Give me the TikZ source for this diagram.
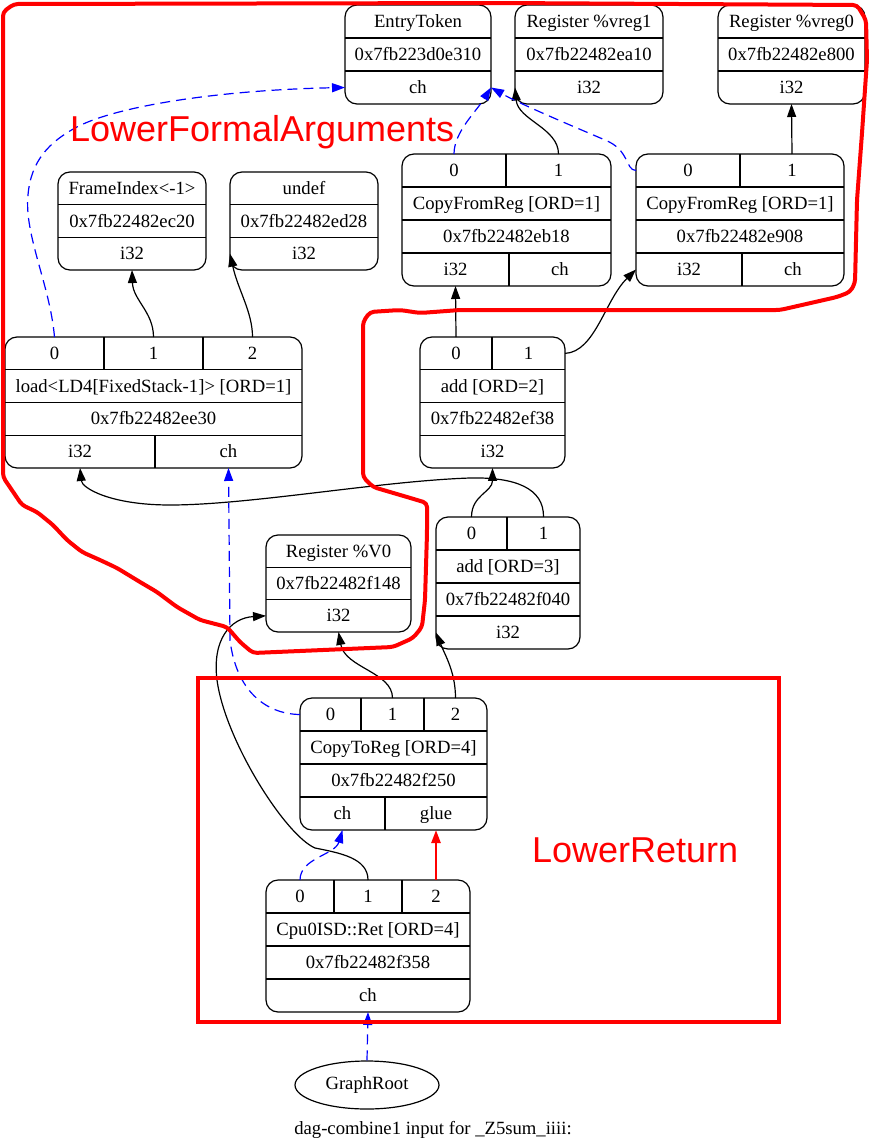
\documentclass[tikz,border=0pt]{standalone}
\usepackage{fontspec}
\setmainfont{Liberation Serif}
\newfontfamily\annofont{Liberation Sans}
\usetikzlibrary{arrows.meta,shapes.geometric}
\newcommand\lblfont{\fontsize{18.67}{22}\selectfont}
\newcommand\fld[6]{\node[fld, minimum width=#4pt, minimum height=#5pt] (#1) at (#2,#3) {#6};}
\newcommand\rbox[5]{\node[rec, minimum width=#4pt, minimum height=#5pt] (#1) at (#2,#3) {};}
\newcommand\rowline[3]{\draw[sepline] (#1,#3) -- (#2,#3);}
\newcommand\colline[3]{\draw[sepline] (#1,#2) -- (#1,#3);}
\tikzset{
  rec/.style={draw, line width=1.2pt, rounded corners=12pt, inner sep=0pt, outer sep=0pt},
  sepline/.style={line width=1.2pt},
  fld/.style={inner sep=0pt, outer sep=0pt, font=\lblfont, text height=14pt, text depth=2pt, align=center},
  edgetip/.style={-{Triangle[length=13pt,width=9pt]}},
  dataedge/.style={edgetip, line width=1.2pt},
  chainedge/.style={edgetip, line width=1.2pt, blue, dash pattern=on 10pt off 6pt},
  glueedge/.style={edgetip, line width=2.4pt, red},
  anno/.style={red, line width=4pt, line join=round, line cap=round},
  annotext/.style={red, inner sep=0pt, outer sep=0pt, font=\annofont\fontsize{36}{40}\selectfont, anchor=base west},
}
\begin{document}
\begin{tikzpicture}[x=1pt,y=-1pt]
\useasboundingbox (0,0) rectangle (871,1148);

% EntryToken
\rbox{entry}{418}{54.5}{146}{99}
\rowline{345}{491}{38}\rowline{345}{491}{71}
\fld{entry-t}{418}{21.5}{146}{33}{EntryToken}
\fld{entry-a}{418}{54.5}{146}{33}{0x7fb223d0e310}
\fld{entry-ch}{418}{87.5}{146}{33}{ch}

% Register vreg1
\rbox{vregone}{589}{54.5}{148}{99}
\rowline{515}{663}{38}\rowline{515}{663}{71}
\fld{vregone-t}{589}{21.5}{148}{33}{Register \%vreg1}
\fld{vregone-a}{589}{54.5}{148}{33}{0x7fb22482ea10}
\fld{vregone-i32}{589}{87.5}{148}{33}{i32}

% Register vreg0
\rbox{vregzero}{791.5}{54.5}{147}{99}
\rowline{718}{865}{38}\rowline{718}{865}{71}
\fld{vregzero-t}{791.5}{21.5}{147}{33}{Register \%vreg0}
\fld{vregzero-a}{791.5}{54.5}{147}{33}{0x7fb22482e800}
\fld{vregzero-i32}{791.5}{87.5}{147}{33}{i32}

% FrameIndex
\rbox{fi}{132}{221}{148}{98}
\rowline{58}{206}{204.7}\rowline{58}{206}{237.3}
\fld{fi-t}{132}{188.3}{148}{32.7}{FrameIndex<-1>}
\fld{fi-a}{132}{221}{148}{32.7}{0x7fb22482ec20}
\fld{fi-i32}{132}{253.7}{148}{32.7}{i32}

% undef
\rbox{undef}{304}{221}{148}{98}
\rowline{230}{378}{204.7}\rowline{230}{378}{237.3}
\fld{undef-t}{304}{188.3}{148}{32.7}{undef}
\fld{undef-a}{304}{221}{148}{32.7}{0x7fb22482ed28}
\fld{undef-i32}{304}{253.7}{148}{32.7}{i32}

% CopyFromReg 1
\rbox{cfra}{506.5}{220}{209}{132}
\rowline{402}{611}{187}\rowline{402}{611}{220}\rowline{402}{611}{253}
\colline{506}{154}{187}\colline{509}{253}{286}
\fld{cfra-p0}{454}{170.5}{104}{33}{0}
\fld{cfra-p1}{558.5}{170.5}{105}{33}{1}
\fld{cfra-t}{506.5}{203.5}{209}{33}{CopyFromReg [ORD=1]}
\fld{cfra-a}{506.5}{236.5}{209}{33}{0x7fb22482eb18}
\fld{cfra-i32}{455.5}{269.5}{107}{33}{i32}
\fld{cfra-ch}{560}{269.5}{102}{33}{ch}

% CopyFromReg 2
\rbox{cfrb}{740}{220}{208}{132}
\rowline{636}{844}{187}\rowline{636}{844}{220}\rowline{636}{844}{253}
\colline{740}{154}{187}\colline{742}{253}{286}
\fld{cfrb-p0}{688}{170.5}{104}{33}{0}
\fld{cfrb-p1}{792}{170.5}{104}{33}{1}
\fld{cfrb-t}{740}{203.5}{208}{33}{CopyFromReg [ORD=1]}
\fld{cfrb-a}{740}{236.5}{208}{33}{0x7fb22482e908}
\fld{cfrb-i32}{689}{269.5}{106}{33}{i32}
\fld{cfrb-ch}{793}{269.5}{102}{33}{ch}

% load
\rbox{load}{153.5}{402.5}{297}{131}
\rowline{5}{302}{369.75}\rowline{5}{302}{402.5}\rowline{5}{302}{435.25}
\colline{104}{337}{369.75}\colline{203}{337}{369.75}\colline{155}{435.25}{468}
\fld{load-p0}{54.5}{353.4}{99}{32.75}{0}
\fld{load-p1}{153.5}{353.4}{99}{32.75}{1}
\fld{load-p2}{252.5}{353.4}{99}{32.75}{2}
\fld{load-t}{153.5}{386.1}{297}{32.75}{load<LD4[FixedStack-1]> [ORD=1]}
\fld{load-a}{153.5}{418.9}{297}{32.75}{0x7fb22482ee30}
\fld{load-i32}{80}{451.6}{150}{32.75}{i32}
\fld{load-ch}{228.5}{451.6}{147}{32.75}{ch}

% add ORD=2
\rbox{addb}{492.5}{402.5}{145}{131}
\rowline{420}{565}{369.75}\rowline{420}{565}{402.5}\rowline{420}{565}{435.25}
\colline{492}{337}{369.75}
\fld{addb-p0}{456}{353.4}{72}{32.75}{0}
\fld{addb-p1}{528.5}{353.4}{73}{32.75}{1}
\fld{addb-t}{492.5}{386.1}{145}{32.75}{add [ORD=2]}
\fld{addb-a}{492.5}{418.9}{145}{32.75}{0x7fb22482ef38}
\fld{addb-i32}{492.5}{451.6}{145}{32.75}{i32}

% add ORD=3
\rbox{addc}{508}{583}{144}{132}
\rowline{436}{580}{550}\rowline{436}{580}{583}\rowline{436}{580}{616}
\colline{507}{517}{550}
\fld{addc-p0}{471.5}{533.5}{71}{33}{0}
\fld{addc-p1}{543.5}{533.5}{73}{33}{1}
\fld{addc-t}{508}{566.5}{144}{33}{add [ORD=3]}
\fld{addc-a}{508}{599.5}{144}{33}{0x7fb22482f040}
\fld{addc-i32}{508}{632.5}{144}{33}{i32}

% Register V0
\rbox{vzero}{338.5}{583.5}{145}{97}
\rowline{266}{411}{567.3}\rowline{266}{411}{599.7}
\fld{vzero-t}{338.5}{551.2}{145}{32.3}{Register \%V0}
\fld{vzero-a}{338.5}{583.5}{145}{32.3}{0x7fb22482f148}
\fld{vzero-i32}{338.5}{615.8}{145}{32.3}{i32}

% CopyToReg
\rbox{ctr}{393.5}{764}{187}{132}
\rowline{300}{487}{731}\rowline{300}{487}{764}\rowline{300}{487}{797}
\colline{361}{698}{731}\colline{424}{698}{731}\colline{385}{797}{830}
\fld{ctr-p0}{330.5}{714.5}{61}{33}{0}
\fld{ctr-p1}{392.5}{714.5}{63}{33}{1}
\fld{ctr-p2}{455.5}{714.5}{63}{33}{2}
\fld{ctr-t}{393.5}{747.5}{187}{33}{CopyToReg [ORD=4]}
\fld{ctr-a}{393.5}{780.5}{187}{33}{0x7fb22482f250}
\fld{ctr-ch}{342.5}{813.5}{85}{33}{ch}
\fld{ctr-glue}{436}{813.5}{102}{33}{glue}

% Cpu0ISD::Ret
\rbox{ret}{368}{946}{204}{132}
\rowline{266}{470}{913}\rowline{266}{470}{946}\rowline{266}{470}{979}
\colline{334}{880}{913}\colline{402}{880}{913}
\fld{ret-p0}{300}{896.5}{68}{33}{0}
\fld{ret-p1}{368}{896.5}{68}{33}{1}
\fld{ret-p2}{436}{896.5}{68}{33}{2}
\fld{ret-t}{368}{929.5}{204}{33}{Cpu0ISD::Ret [ORD=4]}
\fld{ret-a}{368}{962.5}{204}{33}{0x7fb22482f358}
\fld{ret-ch}{368}{995.5}{204}{33}{ch}

% GraphRoot and caption
\node[draw, ellipse, line width=1.2pt, minimum width=144pt, minimum height=48pt, inner sep=0pt, font=\lblfont] (root) at (367,1085) {GraphRoot};
\node[fld] (cap) at (433,1128) {dag-combine1 input for \_Z5sum\_iiii:};

% edges
\draw[chainedge] (load-p0.north) .. controls (50,285) and (24,235) .. (28,195)
   .. controls (31,160) and (50,142) .. (75,128)
   .. controls (115,106) and (220,90) .. (entry-ch.west);
\draw[dataedge] (load-p1.north) .. controls (153.5,312) and (133,300) .. (fi-i32.south);
\draw[dataedge] (load-p2.north) .. controls (252.5,312) and (238,290) .. (undef-i32.west);
\draw[chainedge] (cfra-p0.north) .. controls (454,132) and (476,112) .. (entry-ch.east);
\draw[dataedge] (cfra-p1.north) .. controls (558.5,128) and (518,120) .. (vregone-i32.west);
\draw[chainedge] (cfrb-p0.west) .. controls (625,170) and (630,150) .. (605,140)
   .. controls (570,125) and (520,104) .. (entry-ch.east);
\draw[dataedge] (cfrb-p1.north) -- (vregzero-i32.south);
\draw[dataedge] (addb-p0.north) -- (cfra-i32.south);
\draw[dataedge] (addb-p1.east) .. controls (595,352) and (605,300) .. (cfrb-i32.west);
\draw[dataedge] (addc-p0.north) .. controls (471.5,495) and (492.5,492) .. (addb-i32.south);
\draw[dataedge] (addc-p1.north) .. controls (544,488) and (515,477) .. (470,478)
   .. controls (380,481) and (250,505) .. (170,505)
   .. controls (110,505) and (82,488) .. (load-i32.south);
\draw[chainedge] (ctr-p0.west) .. controls (265,714) and (236,690) .. (230,640) -- (load-ch.south);
\draw[dataedge] (ctr-p1.north) .. controls (392.5,672) and (345,668) .. (vzero-i32.south);
\draw[dataedge] (ctr-p2.north) .. controls (455.5,672) and (445,655) .. (addc-i32.west);
\draw[chainedge] (ret-p0.north) .. controls (300,858) and (335,855) .. (ctr-ch.south);
\draw[dataedge] (ret-p1.north) .. controls (368,858) and (340,853) .. (315,848)
   .. controls (285,835) and (225,740) .. (217,680)
   .. controls (212,640) and (230,618) .. (vzero-i32.west);
\draw[glueedge] (ret-p2.north) -- (ctr-glue.south);
\draw[chainedge] (root.north) -- (ret-ch.south);

% annotations
\draw[anno, rounded corners=4pt] (3,12) -- (14,4) -- (500,3) -- (857,5) -- (866,20) -- (867,60)
  -- (862,133) -- (857,200) -- (855,283) -- (850,292) -- (837,297) -- (780,310) -- (460,310)
  -- (420,313) -- (400,310) -- (370,312) -- (363,322) -- (363,477) -- (373,487) -- (407,497)
  -- (427,503) -- (427,533) -- (425,600) -- (422,627) -- (413,638) -- (393,647) -- (253,653)
  -- (240,642) -- (227,627) -- (200,620) -- (177,607) -- (157,592) -- (140,582) -- (117,568)
  -- (100,560) -- (82,552) -- (67,540) -- (53,525) -- (37,512) -- (22,505) -- (3,477) -- cycle;
\draw[anno, line cap=butt, line join=miter] (198,678) rectangle (779,1022);
\node[annotext] (lfa) at (70,141) {LowerFormalArguments};
\node[annotext] (lret) at (532,862) {LowerReturn};
\end{tikzpicture}
\end{document}
